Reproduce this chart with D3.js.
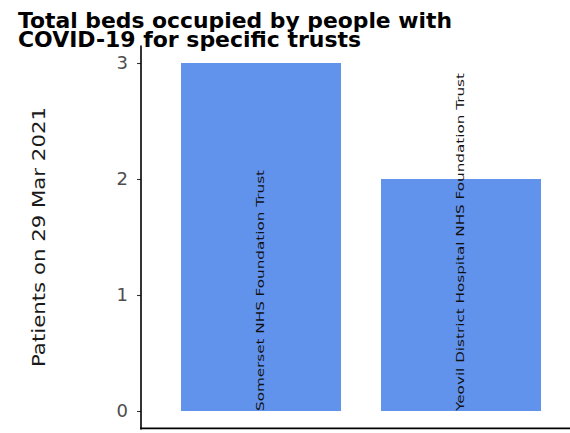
<!DOCTYPE html>
<html><head><meta charset="utf-8">
<script src="https://cdn.jsdelivr.net/npm/d3@7"></script>
<style>body{margin:0;background:#fff}svg{display:block}text{font-family:"DejaVu Sans",sans-serif}</style>
</head><body>
<svg id="c" width="570" height="433"></svg>
<script>
const categories = ["Somerset NHS Foundation Trust", "Yeovil District Hospital NHS Foundation Trust"];
const values = [3, 2];
const yTicks = [0, 1, 2, 3];
const titleLines = ["Total beds occupied by people with", "COVID-19 for specific trusts"];
const yTitle = "Patients on 29 Mar 2021";

(function(){
const svg = d3.select("#c");
const W = 570, H = 433;
const pLeft = 141, pTop = 45.6, pBottom = 428.4;
const step = 200;
const x = d3.scaleBand().domain(categories).range([pLeft + 0.1*step, pLeft + 2.1*step]).paddingInner(0.2).paddingOuter(0.1);
const y = d3.scaleLinear().domain([-0.15, 3.15]).range([pBottom, pTop]);

// bars
svg.selectAll("rect.bar").data(categories).join("rect")
  .attr("x", d => x(d)).attr("width", x.bandwidth())
  .attr("y", (d,i) => y(values[i])).attr("height", (d,i) => y(0) - y(values[i]))
  .attr("fill", "#6293EC");

// bar labels
const labLen = [241, 338];
svg.selectAll("text.lab").data(categories).join("text")
  .attr("transform", d => `translate(${x(d) + x.bandwidth()/2 - 1},${y(0)}) rotate(-90)`)
  .attr("dominant-baseline", "central")
  .attr("font-size", 11)
  .attr("textLength", (d,i) => labLen[i]).attr("lengthAdjust", "spacingAndGlyphs")
  .attr("fill", "#111")
  .text(d => d);

// y axis
const ya = svg.append("g").attr("transform", `translate(${pLeft},0)`)
  .call(d3.axisLeft(y).tickValues(yTicks).tickFormat(d3.format("d")).tickSize(4).tickPadding(9));
ya.select(".domain").remove();
ya.selectAll(".tick line").attr("stroke", "#333").attr("stroke-width", 1.1);
ya.selectAll(".tick text").attr("font-size", 18).attr("fill", "#4d4d4d").attr("font-family", "DejaVu Sans, sans-serif");

// axis lines
svg.append("line").attr("x1", pLeft).attr("x2", pLeft).attr("y1", pTop).attr("y2", pBottom + 1)
  .attr("stroke", "#000").attr("stroke-width", 1.6);
svg.append("line").attr("x1", pLeft - 0.8).attr("x2", W).attr("y1", pBottom).attr("y2", pBottom)
  .attr("stroke", "#000").attr("stroke-width", 1.6);

// y title
svg.append("text").attr("transform", `translate(45,${(107+367)/2}) rotate(-90)`)
  .attr("text-anchor", "middle").attr("font-size", 18).attr("fill", "#1a1a1a")
  .attr("textLength", 260).attr("lengthAdjust", "spacingAndGlyphs")
  .text(yTitle);

// title
const tLens = [434, 343];
const tY = [28, 47];
titleLines.forEach((t, i) => {
  svg.append("text").attr("x", 18).attr("y", tY[i]).attr("font-size", 22).attr("font-weight", "bold")
    .attr("fill", "#000").attr("textLength", tLens[i]).attr("lengthAdjust", "spacingAndGlyphs").text(t);
});
})();
</script>
</body></html>
